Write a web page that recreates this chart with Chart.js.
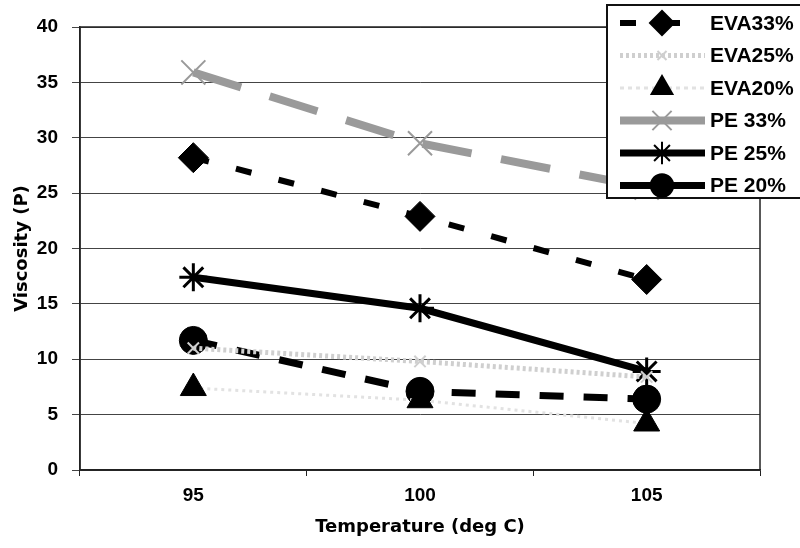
<!DOCTYPE html>
<html lang="en">
<head>
    <meta charset="UTF-8">
    <title>Viscosity vs Temperature</title>
    <script src="https://cdn.jsdelivr.net/npm/chart.js"></script>
    <style>
        html, body { margin: 0; padding: 0; background: #fff; }
        #wrap { width: 800px; height: 548px; }
    </style>
</head>
<body>
    <div id="wrap"><canvas id="viscChart" width="800" height="548"></canvas></div>

    <script>
        // data
        const temperatures = ['95', '100', '105'];
        const yTicks = [0, 5, 10, 15, 20, 25, 30, 35, 40];
        const seriesNames = ['EVA33%', 'EVA25%', 'EVA20%', 'PE 33%', 'PE 25%', 'PE 20%'];
        const eva33 = [28.2, 22.9, 17.2];
        const eva25 = [11.0, 9.8, 8.4];
        const eva20 = [7.4, 6.3, 4.2];
        const pe33 = [35.9, 29.5, 25.5];
        const pe25 = [17.4, 14.6, 8.9];
        const pe20 = [11.7, 7.1, 6.4];

        const tickFont = { family: 'Liberation Sans', size: 19, weight: 'bold' };
        const titleFont = { family: 'DejaVu Sans', size: 18, weight: 'bold' };

        // frame round the plot area
        const frame = {
            id: 'frame',
            afterDraw(chart) {
                const a = chart.chartArea, ctx = chart.ctx;
                ctx.save();
                ctx.strokeStyle = '#222';
                ctx.lineWidth = 1.5;
                ctx.strokeRect(a.left, a.top, a.right - a.left, a.bottom - a.top);
                ctx.restore();
            }
        };

        // legend box top right, line sample + marker like the original
        const origDrawPoint = Chart.helpers.drawPoint;
        const boxLegend = {
            id: 'boxLegend',
            afterDraw(chart) {
                const ctx = chart.ctx;
                const x0 = 607, y0 = 5, rowH = 32.5;
                ctx.save();
                ctx.fillStyle = '#fff';
                ctx.fillRect(x0, y0, 200, 193);
                ctx.strokeStyle = '#111';
                ctx.lineWidth = 2;
                ctx.strokeRect(x0, y0, 200, 193);
                chart.data.datasets.forEach((ds, i) => {
                    const y = y0 + 18 + i * rowH;
                    ctx.save();
                    ctx.strokeStyle = ds.borderColor;
                    ctx.lineWidth = ds.borderWidth;
                    ctx.setLineDash(ds.legendDash || []);
                    ctx.beginPath();
                    ctx.moveTo(620, y);
                    ctx.lineTo(705, y);
                    ctx.stroke();
                    ctx.restore();
                    ctx.save();
                    ctx.fillStyle = ds.pointBackgroundColor;
                    ctx.strokeStyle = ds.pointBorderColor;
                    origDrawPoint(ctx, {
                        pointStyle: ds.pointStyle,
                        radius: ds.pointRadius * 0.8,
                        borderWidth: ds.pointBorderWidth || 1,
                        rotation: 0
                    }, 662, y);
                    ctx.restore();
                    ctx.fillStyle = '#000';
                    ctx.font = 'bold 21px "Liberation Sans"';
                    ctx.textBaseline = 'middle';
                    ctx.fillText(seriesNames[i], 710, y + 1);
                });
                ctx.restore();
            }
        };

        const datasets = [
            { data: eva33, borderColor: '#000', backgroundColor: '#000', borderWidth: 6, borderDash: [16, 28],
              legendDash: [16, 28], pointStyle: 'rectRot', pointRadius: 15, pointBorderWidth: 1 },
            { data: eva25, borderColor: '#cfcfcf', backgroundColor: '#cfcfcf', borderWidth: 5, borderDash: [3, 3],
              legendDash: [3, 3], pointStyle: 'crossRot', pointRadius: 8, pointBorderWidth: 2 },
            { data: eva20, borderColor: '#e2e2e2', backgroundColor: '#000', borderWidth: 3, borderDash: [3, 4],
              legendDash: [4, 4], pointStyle: 'triangle', pointRadius: 15, pointBorderWidth: 1 },
            { data: pe33, borderColor: '#9a9a9a', backgroundColor: '#9a9a9a', borderWidth: 8, borderDash: [50, 30],
              legendDash: [], pointStyle: 'crossRot', pointRadius: 17, pointBorderWidth: 2 },
            { data: pe25, borderColor: '#000', backgroundColor: '#000', borderWidth: 7,
              legendDash: [], pointStyle: 'star', pointRadius: 14, pointBorderWidth: 3 },
            { data: pe20, borderColor: '#000', backgroundColor: '#000', borderWidth: 7, borderDash: [24, 20],
              legendDash: [], pointStyle: 'circle', pointRadius: 14, pointBorderWidth: 1 }
        ];
        datasets.forEach((ds, i) => {
            ds.label = seriesNames[i];
            ds.pointBackgroundColor = ds.backgroundColor;
            ds.pointBorderColor = ds.pointStyle === 'crossRot' || ds.pointStyle === 'star' ? ds.borderColor : ds.backgroundColor;
            ds.tension = 0;
            ds.fill = false;
        });

        const ctx = document.getElementById('viscChart').getContext('2d');
        new Chart(ctx, {
            type: 'line',
            data: { labels: temperatures, datasets: datasets },
            options: {
                responsive: false,
                animation: false,
                layout: { padding: { top: 27, right: 40, left: 0, bottom: 0 } },
                plugins: { legend: { display: false }, tooltip: { enabled: false } },
                scales: {
                    x: {
                        offset: true,
                        grid: { offset: true, drawOnChartArea: false, drawTicks: true, tickLength: 6, color: '#222' },
                        border: { color: '#222', width: 1.5 },
                        ticks: { color: '#000', font: tickFont, padding: 8 },
                        title: { display: true, text: 'Temperature (deg C)', color: '#000', font: titleFont, padding: { top: 2, bottom: 10 } },
                        afterFit(scale) { scale.height = 78; }
                    },
                    y: {
                        min: 0,
                        max: 40,
                        afterBuildTicks(scale) { scale.ticks = yTicks.map(v => ({ value: v })); },
                        grid: { color: '#444', lineWidth: 1, tickLength: 8 },
                        border: { color: '#222', width: 1.5 },
                        ticks: { color: '#000', font: tickFont, padding: 14 },
                        title: { display: true, text: 'Viscosity (P)', color: '#000', font: titleFont, padding: { top: 12, bottom: 0 } },
                        afterFit(scale) { scale.width = 80; }
                    }
                }
            },
            plugins: [frame, boxLegend]
        });
    </script>
</body>
</html>
